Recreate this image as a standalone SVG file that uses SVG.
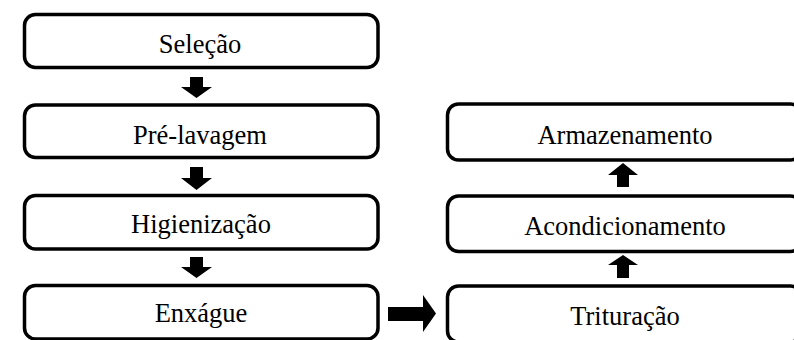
<svg xmlns="http://www.w3.org/2000/svg" width="794" height="340" viewBox="0 0 794 340">
<style>
.box{fill:#fff;stroke:#000;stroke-width:3.5}
.lbl{font-family:"Liberation Serif","Times New Roman",serif;font-size:26.5px;fill:#000;text-anchor:middle}
.arr{fill:#000}
</style>
<rect width="794" height="340" fill="#fff"/>
<g id="selecao"><rect class="box" x="24.5" y="14.5" width="353.5" height="53" rx="11"/><text class="lbl" x="200" y="53">Seleção</text></g>
<g id="prelavagem"><rect class="box" x="24.5" y="105" width="353.5" height="52.5" rx="11"/><text class="lbl" x="200" y="143.5">Pré-lavagem</text></g>
<g id="higienizacao"><rect class="box" x="24.5" y="195.5" width="353.5" height="53.5" rx="11"/><text class="lbl" x="201" y="233">Higienização</text></g>
<g id="enxague"><rect class="box" x="24.5" y="285.5" width="353.5" height="53.5" rx="11"/><text class="lbl" x="201" y="322">Enxágue</text></g>
<g id="armazenamento"><rect class="box" x="447.5" y="104" width="354" height="56" rx="11"/><text class="lbl" x="625" y="143.5">Armazenamento</text></g>
<g id="acondicionamento"><rect class="box" x="447.5" y="196" width="354" height="55.5" rx="11"/><text class="lbl" x="625" y="235">Acondicionamento</text></g>
<g id="trituracao"><rect class="box" x="447.5" y="286" width="354" height="56" rx="11"/><text class="lbl" x="625" y="325">Trituração</text></g>
<g id="connectors">
<polygon class="arr" points="190,77 203,77 203,87 212,87 196.5,98 181,87 190,87"/>
<polygon class="arr" points="190,167 203,167 203,178 212,178 196.5,190 181,178 190,178"/>
<polygon class="arr" points="190,257 203,257 203,267 212,267 196.5,278 181,267 190,267"/>
<polygon class="arr" points="617,187 629,187 629,175 638,175 623,163 608,175 617,175"/>
<polygon class="arr" points="617,278 629,278 629,265 638,265 623,255 608,265 617,265"/>
<polygon class="arr" points="388,307 423,307 423,295 436,313.5 423,332 423,321 388,321"/>
</g>
</svg>
